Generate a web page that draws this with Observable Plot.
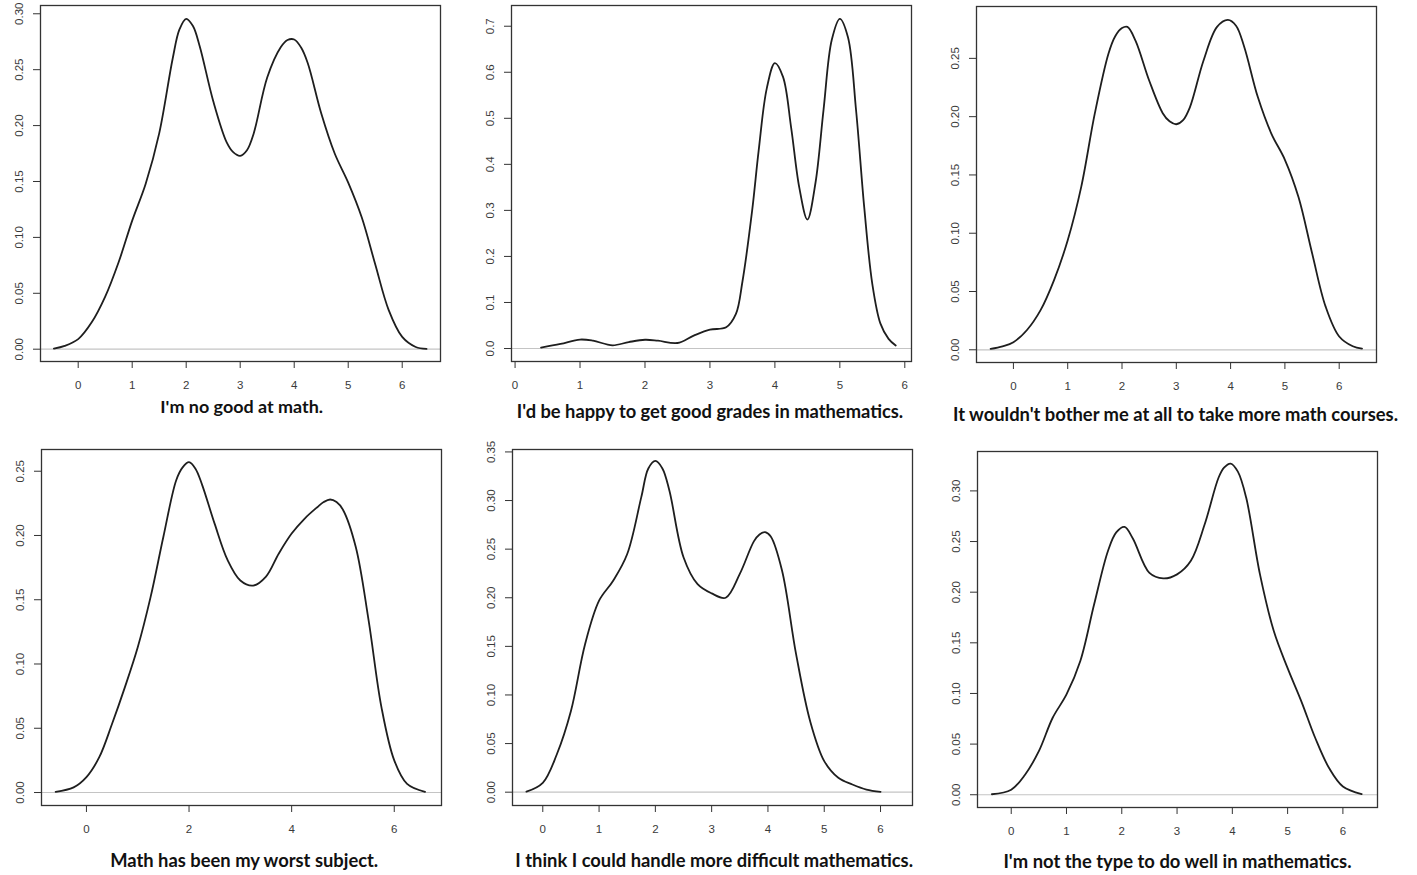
<!DOCTYPE html>
<html>
<head>
<meta charset="utf-8">
<script src="https://cdn.jsdelivr.net/npm/d3@7"></script>
<script src="https://cdn.jsdelivr.net/npm/@observablehq/plot@0.6"></script>
<style>
  html, body { margin: 0; padding: 0; background: #fff; }
  #wrap { position: relative; width: 1417px; height: 875px; overflow: hidden; background: #fff; }
  .panel { position: absolute; }
  .cap { position: absolute; white-space: nowrap; font-family: Lato, "Open Sans", sans-serif; font-weight: 700; color: #111; line-height: normal; }
</style>
</head>
<body>
<div id="wrap"></div>
<script>
// ---- Data (kernel density curves) ----
const captions = [
  "I'm no good at math.",
  "I'd be happy to get good grades in mathematics.",
  "It wouldn't bother me at all to take more math courses.",
  "Math has been my worst subject.",
  "I think I could handle more difficult mathematics.",
  "I'm not the type to do well in mathematics."
];

const noGoodX = [-0.45,-0.25,0,0.25,0.5,0.75,1,1.25,1.5,1.75,1.875,2,2.125,2.25,2.5,2.75,2.875,3,3.125,3.25,3.5,3.75,3.875,4,4.125,4.25,4.5,4.75,5,5.25,5.5,5.75,6,6.25,6.45];
const noGoodY = [0.0005,0.003,0.009,0.024,0.047,0.078,0.115,0.148,0.193,0.26,0.286,0.2955,0.289,0.271,0.222,0.185,0.176,0.173,0.178,0.193,0.243,0.27,0.2765,0.277,0.27,0.256,0.211,0.175,0.149,0.118,0.076,0.035,0.011,0.002,0.0003];

const happyX = [0.4,0.7,1,1.2,1.5,1.75,2,2.2,2.5,2.75,3,3.25,3.4,3.5,3.65,3.75,3.875,4,4.125,4.25,4.375,4.5,4.625,4.75,4.875,5,5.125,5.25,5.375,5.5,5.625,5.75,5.86];
const happyY = [0.002,0.010,0.0195,0.017,0.007,0.014,0.019,0.017,0.012,0.028,0.041,0.046,0.075,0.145,0.30,0.43,0.565,0.62,0.59,0.48,0.35,0.28,0.36,0.52,0.67,0.716,0.676,0.517,0.307,0.14,0.054,0.021,0.0065];

const botherX = [-0.42,-0.2,0,0.25,0.5,0.75,1,1.25,1.5,1.75,1.875,2,2.1,2.25,2.5,2.75,2.875,3,3.125,3.25,3.5,3.75,3.95,4.1,4.25,4.5,4.75,5,5.25,5.5,5.75,6,6.25,6.42];
const botherY = [0.0008,0.003,0.0065,0.017,0.034,0.06,0.094,0.14,0.203,0.254,0.269,0.276,0.277,0.265,0.231,0.203,0.196,0.1935,0.197,0.208,0.248,0.277,0.283,0.278,0.26,0.217,0.1855,0.163,0.131,0.083,0.037,0.0114,0.003,0.001];

const worstX = [-0.6,-0.25,0,0.25,0.5,0.75,1,1.25,1.5,1.75,1.875,2,2.125,2.25,2.5,2.75,3,3.25,3.5,3.75,4,4.25,4.5,4.625,4.75,4.875,5,5.25,5.5,5.75,6,6.25,6.6];
const worstY = [0.0005,0.004,0.012,0.0275,0.0535,0.082,0.113,0.152,0.199,0.243,0.253,0.257,0.252,0.24,0.209,0.181,0.165,0.161,0.168,0.186,0.2015,0.213,0.222,0.226,0.228,0.226,0.22,0.191,0.134,0.0665,0.025,0.0067,0.0005];

const handleX = [-0.29,0,0.25,0.5,0.75,1,1.25,1.5,1.75,1.875,2,2.125,2.25,2.5,2.75,3,3.25,3.5,3.75,3.85,3.95,4.05,4.25,4.5,4.75,5,5.25,5.5,5.75,6];
const handleY = [0.0005,0.0096,0.039,0.0835,0.152,0.197,0.2175,0.245,0.3035,0.333,0.3407,0.333,0.31,0.2417,0.214,0.2045,0.2,0.2245,0.258,0.265,0.2675,0.263,0.228,0.142,0.073,0.032,0.0148,0.0079,0.0027,0.0003];

const notTypeX = [-0.35,0,0.25,0.5,0.75,1,1.25,1.5,1.75,1.9,2.05,2.2,2.5,2.75,3,3.25,3.5,3.75,3.85,3.97,4.1,4.25,4.5,4.75,5,5.25,5.5,5.75,6,6.34];
const notTypeY = [0.0005,0.005,0.0198,0.043,0.076,0.099,0.132,0.188,0.2407,0.259,0.2644,0.253,0.219,0.2136,0.2176,0.231,0.267,0.313,0.323,0.327,0.319,0.2934,0.2176,0.1616,0.125,0.092,0.056,0.0264,0.0082,0.0007];

const xTickSets = [
  [0,1,2,3,4,5,6], [0,1,2,3,4,5,6], [0,1,2,3,4,5,6],
  [0,2,4,6], [0,1,2,3,4,5,6], [0,1,2,3,4,5,6]
];
const yTickSets = [
  [0,0.05,0.10,0.15,0.20,0.25,0.30],
  [0,0.1,0.2,0.3,0.4,0.5,0.6,0.7],
  [0,0.05,0.10,0.15,0.20,0.25],
  [0,0.05,0.10,0.15,0.20,0.25],
  [0,0.05,0.10,0.15,0.20,0.25,0.30,0.35],
  [0,0.05,0.10,0.15,0.20,0.25,0.30]
];
const yTickDecimals = [2, 1, 2, 2, 2, 2];

// ---- Layout (not data) ----
const seriesX = [noGoodX, happyX, botherX, worstX, handleX, notTypeX];
const seriesY = [noGoodY, happyY, botherY, worstY, handleY, notTypeY];
const xDomains = [[-0.698, 6.709], [-0.055, 6.103], [-0.68, 6.687], [-0.876, 6.921], [-0.538, 6.568], [-0.61, 6.626]];
const yDomains = [[-0.011, 0.3074], [-0.0282, 0.745], [-0.0109, 0.2945], [-0.0101, 0.2669], [-0.0137, 0.3525], [-0.0126, 0.3389]];
const frames = [[40, 5], [511, 5], [976, 6], [41, 449], [512, 449], [977, 451]];
const capLayout = [[241.7, 413, 163], [710, 418, 386.6], [1175.5, 420.5, 445.6], [244.2, 866.7, 268.3], [714.2, 866.7, 398.3], [1177.5, 868, 348.4]];

const W = 400, H = 356, mL = 40, mR = 8, mT = 4, mB = 36;
const wrap = document.getElementById("wrap");

for (let i = 0; i < 6; i++) {
  const data = seriesX[i].map((x, j) => ({x, y: seriesY[i][j]}));
  const fmt = d3.format("." + yTickDecimals[i] + "f");
  const chart = Plot.plot({
    width: W + mL + mR,
    height: H + mT + mB,
    marginLeft: mL, marginRight: mR, marginTop: mT, marginBottom: mB,
    style: {fontFamily: "'Liberation Sans', Arial, sans-serif", fontSize: "11.5px", color: "#3a3a3a", background: "transparent", overflow: "visible"},
    x: {domain: xDomains[i], axis: null},
    y: {domain: yDomains[i], axis: null},
    marks: [
      Plot.ruleY([0], {stroke: "#c4c4c4", strokeWidth: 1.2}),
      Plot.line(data, {x: "x", y: "y", curve: "catmull-rom", stroke: "#1e1e1e", strokeWidth: 1.8}),
      Plot.frame({stroke: "#333", strokeWidth: 1.3}),
      Plot.axisX({ticks: xTickSets[i], tickSize: 7, tickPadding: 12, tickFormat: d => String(d), label: null, stroke: "#333"}),
      Plot.axisY({ticks: yTickSets[i], tickSize: 7, tickPadding: 11, tickRotate: -90, tickFormat: fmt, label: null, stroke: "#333"})
    ]
  });
  chart.classList.add("panel");
  chart.style.left = (frames[i][0] - mL) + "px";
  chart.style.top = (frames[i][1] - mT) + "px";
  wrap.appendChild(chart);
}

captions.forEach((text, i) => {
  const [cx, baseline, targetW] = capLayout[i];
  const d = document.createElement("div");
  d.className = "cap";
  d.appendChild(document.createTextNode(text));
  const m = document.createElement("span");
  m.style.display = "inline-block"; m.style.width = "0"; m.style.height = "0";
  d.appendChild(m);
  d.style.fontSize = "16px";
  wrap.appendChild(d);
  const w0 = d.getBoundingClientRect().width;
  const f = 16 * targetW / w0;
  d.style.fontSize = f + "px";
  const w = d.getBoundingClientRect().width;
  d.style.left = (cx - w / 2) + "px";
  d.style.top = "0px";
  const b = m.offsetTop;
  d.style.top = (baseline - b) + "px";
});
</script>
</body>
</html>
